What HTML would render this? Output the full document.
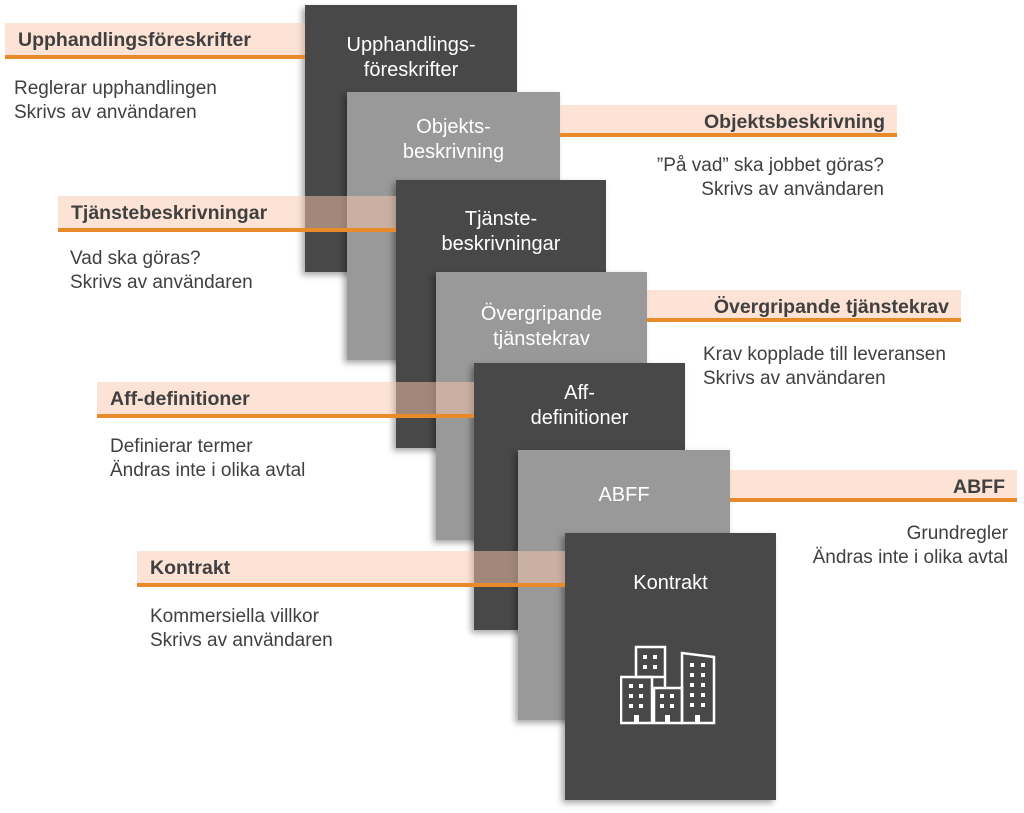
<!DOCTYPE html>
<html><head><meta charset="utf-8"><style>
body{margin:0;width:1024px;height:813px;background:#fff;position:relative;overflow:hidden;font-family:"Liberation Sans",sans-serif}
.c{position:absolute;box-shadow:-3px 3px 6px rgba(0,0,0,.35);color:#fff;font-size:20px;text-align:center;line-height:25px}
.d{background:#484848}.g{background:#999}
.b{position:absolute;height:32px;background:rgba(250,200,172,.5);border-bottom:4px solid #e8892a;font-weight:bold;font-size:19.5px;color:#404040;line-height:34px;box-sizing:content-box;white-space:nowrap}
.t{position:absolute;font-size:19px;color:#404040;line-height:24px;white-space:nowrap}
.l{padding-left:13px}.r{text-align:right;padding-right:12px;box-sizing:border-box}
</style></head><body>
<div class="c d" style="left:305px;top:5px;width:212px;height:267px"><div style="margin-top:28px">Upphandlings-<br>föreskrifter</div></div>
<div class="c g" style="left:347px;top:92px;width:213px;height:268px"><div style="margin-top:23px">Objekts-<br>beskrivning</div></div>
<div class="c d" style="left:396px;top:180px;width:210px;height:268px"><div style="margin-top:27px">Tjänste-<br>beskrivningar</div></div>
<div class="c g" style="left:436px;top:272px;width:211px;height:268px"><div style="margin-top:30px">Övergripande<br>tjänstekrav</div></div>
<div class="c d" style="left:474px;top:363px;width:211px;height:267px"><div style="margin-top:18px">Aff-<br>definitioner</div></div>
<div class="c g" style="left:518px;top:450px;width:212px;height:270px"><div style="margin-top:33px">ABFF</div></div>
<div class="c d" style="left:565px;top:533px;width:211px;height:267px"><div style="margin-top:38px">Kontrakt</div>
<svg style="position:absolute;left:55px;top:110px" width="100" height="85" viewBox="622 643 100 85" fill="none" stroke="#fff" stroke-width="2.5">
<rect x="623" y="677" width="31" height="46"/><rect x="638" y="647" width="29" height="30"/><line x1="667" y1="677" x2="667" y2="687"/><rect x="656" y="688" width="28" height="35"/><path d="M684 723V653L716 657V723Z"/>
<g fill="#fff" stroke="none">
<rect x="645" y="655" width="4" height="4"/><rect x="655" y="655" width="4" height="4"/><rect x="645" y="665" width="4" height="4"/><rect x="655" y="665" width="4" height="4"/>
<rect x="631" y="684" width="4" height="4"/><rect x="641" y="684" width="4" height="4"/><rect x="631" y="694" width="4" height="4"/><rect x="641" y="694" width="4" height="4"/><rect x="631" y="704" width="4" height="4"/><rect x="641" y="704" width="4" height="4"/>
<rect x="662" y="694" width="4" height="4"/><rect x="672" y="694" width="4" height="4"/><rect x="662" y="704" width="4" height="4"/><rect x="672" y="704" width="4" height="4"/>
<rect x="692" y="663" width="4" height="4"/><rect x="703" y="663" width="4" height="4"/><rect x="692" y="673" width="4" height="4"/><rect x="703" y="673" width="4" height="4"/><rect x="692" y="683" width="4" height="4"/><rect x="703" y="683" width="4" height="4"/><rect x="692" y="693" width="4" height="4"/><rect x="703" y="693" width="4" height="4"/><rect x="692" y="703" width="4" height="4"/><rect x="703" y="703" width="4" height="4"/>
<rect x="636" y="715" width="5" height="8"/><rect x="667" y="715" width="5" height="8"/><rect x="697" y="715" width="5" height="8"/></g></svg></div>

<div class="b l" style="left:5px;top:23px;width:287px">Upphandlingsföreskrifter</div>
<div class="t" style="left:14px;top:77px">Reglerar upphandlingen<br>Skrivs av användaren</div>
<div class="b r" style="left:560px;top:105px;width:337px">Objektsbeskrivning</div>
<div class="t" style="left:560px;width:324px;text-align:right;top:154px">”På vad” ska jobbet göras?<br>Skrivs av användaren</div>
<div class="b l" style="left:58px;top:196px;width:325px">Tjänstebeskrivningar</div>
<div class="t" style="left:70px;top:247px">Vad ska göras?<br>Skrivs av användaren</div>
<div class="b r" style="left:647px;top:290px;width:314px">Övergripande tjänstekrav</div>
<div class="t" style="left:703px;top:343px">Krav kopplade till leveransen<br>Skrivs av användaren</div>
<div class="b l" style="left:97px;top:382px;width:364px">Aff-definitioner</div>
<div class="t" style="left:110px;top:435px">Definierar termer<br>Ändras inte i olika avtal</div>
<div class="b r" style="left:730px;top:470px;width:287px">ABFF</div>
<div class="t" style="left:730px;width:278px;text-align:right;top:522px">Grundregler<br>Ändras inte i olika avtal</div>
<div class="b l" style="left:137px;top:551px;width:415px">Kontrakt</div>
<div class="t" style="left:150px;top:605px">Kommersiella villkor<br>Skrivs av användaren</div>
</body></html>
